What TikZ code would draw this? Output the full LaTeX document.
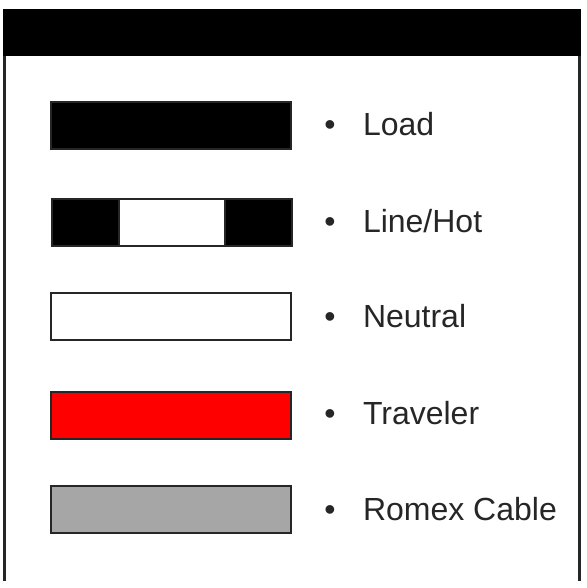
\documentclass[tikz,border=0pt]{standalone}
\usepackage{fontspec}
\setmainfont{Liberation Sans}
\definecolor{edge}{HTML}{262626}
\definecolor{romex}{HTML}{A6A6A6}

\begin{document}
\begin{tikzpicture}
  [x=1pt,y=-1pt,every node/.style={inner sep=0pt,outer sep=0pt}]

  \tikzstyle{swatch} = [draw=edge,line width=2pt,minimum width=240pt,
                        minimum height=47pt,anchor=north west]
  \tikzstyle{item}   = [font=\fontsize{32pt}{36pt}\selectfont,text=edge]

  \useasboundingbox (0,0) rectangle (586,588);

  % frame
  \node[fill=black,minimum width=578pt,minimum height=47pt,anchor=north west]
        (head) at (3,9) {};
  \draw[edge,line width=2.5pt] (4.5,56) -- (4.5,581);
  \draw[edge,line width=2.5pt] (579.5,56) -- (579.5,581);

  % swatches
  \node[swatch,fill=black] (load)    at (50.5,102) {};
  \node[swatch,fill=black] (hot)     at (52,199)   {};
  \node[draw=edge,line width=2pt,fill=white,minimum width=106pt,
        minimum height=47pt] (hotmid) at (hot.center) {};
  \node[swatch,fill=white] (neutral) at (50.5,293) {};
  \node[swatch,fill=red]   (trav)    at (50.5,392) {};
  \node[swatch,fill=romex] (romex)   at (50.5,486) {};

  % labels
  \node[item,anchor=base] (loadb)    at (330,136) {\textbullet};
  \node[item,anchor=base] (hotb)     at (330,232) {\textbullet};
  \node[item,anchor=base] (neutralb) at (330,327) {\textbullet};
  \node[item,anchor=base] (travb)    at (330,424) {\textbullet};
  \node[item,anchor=base] (romexb)   at (330,520) {\textbullet};

  \node[item,anchor=base west] (loadt)    at (363,136) {Load};
  \node[item,anchor=base west] (hott)     at (363,232) {Line/Hot};
  \node[item,anchor=base west] (neutralt) at (363,327) {Neutral};
  \node[item,anchor=base west] (travt)    at (363,424) {Traveler};
  \node[item,anchor=base west] (romext)   at (363,520) {Romex Cable};
\end{tikzpicture}
\end{document}
